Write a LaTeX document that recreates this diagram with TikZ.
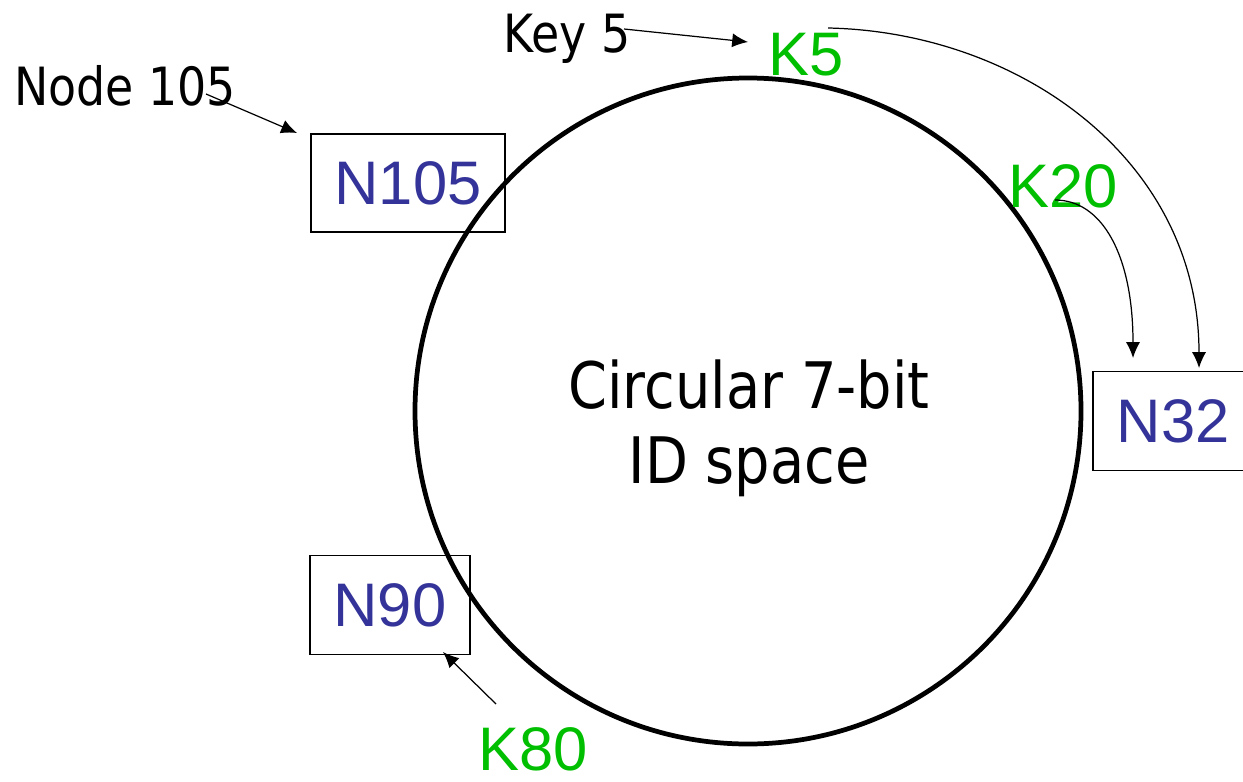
\documentclass[tikz,border=0pt]{standalone}
\usepackage{fontspec}
\newfontfamily\labelfont{Liberation Sans}
\newfontfamily\notefont[FakeStretch=0.87]{DejaVu Sans}
\usetikzlibrary{arrows.meta}
\definecolor{keygreen}{HTML}{00BF00}
\definecolor{nodeblue}{HTML}{333399}

\tikzset{
  idbox/.style={draw, line width=0.8pt, inner sep=0pt, text=nodeblue,
    font=\labelfont\fontsize{35}{42}\selectfont},
  keylabel/.style={anchor=base, inner sep=0pt, text=keygreen,
    font=\labelfont\fontsize{35}{42}\selectfont},
  note/.style={anchor=base, inner sep=0pt,
    font=\notefont\fontsize{30}{36}\selectfont},
  pointer/.style={-{Latex[length=9pt,width=8pt]}, line width=0.7pt}
}

\begin{document}
\begin{tikzpicture}[x=0.02cm,y=-0.02cm]
    \useasboundingbox (0,0) rectangle (1243,781);

    % the ring
    \draw[line width=2.7pt] (748,411) circle (333);
    \node[anchor=base, inner sep=0pt, font=\notefont\fontsize{36.5}{44}\selectfont] (ring1) at (749,408) {Circular 7-bit};
    \node[anchor=base, inner sep=0pt, font=\notefont\fontsize{36.5}{44}\selectfont] (ring2) at (749,483) {ID space};

    % nodes on the ring
    \node[idbox, minimum width=3.88cm, minimum height=1.96cm] (n105) at (408,183) {N105};
    \node[idbox, minimum width=3.2cm, minimum height=1.98cm] (n90) at (390,605) {N90};
    \node[idbox, minimum width=3.2cm, minimum height=1.98cm] (n32) at (1173,421) {N32};

    % keys
    \node[keylabel] (k5) at (806,75) {K5};
    \node[keylabel] (k20) at (1063,207) {K20};
    \node[keylabel] (k80) at (533,770) {K80};

    % notes
    \node[note] (key5) at (567,52) {Key 5};
    \node[note] (node105) at (125,105) {Node 105};

    \coordinate (key5 tail) at (624,29);
    \coordinate (k5 tip) at (748,42);
    \coordinate (node105 tail) at (206,94);
    \coordinate (n105 tip) at (297,133);
    \coordinate (k80 tail) at (496,704);
    \coordinate (n90 tip) at (443,652);
    \coordinate (k20 tail) at (1055,200);
    \coordinate (k20 tip) at (1133,358);
    \coordinate (k5 tail) at (828,28);
    \coordinate (k5 far tip) at (1199,368);

    \draw[pointer] (key5 tail) -- (k5 tip);
    \draw[pointer] (node105 tail) -- (n105 tip);
    \draw[pointer] (k80 tail) -- (n90 tip);
    \draw[pointer] (k20 tail) .. controls (1102,200) and (1133,255) .. (k20 tip);
    \draw[pointer] (k5 tail) .. controls (1020,32) and (1199,160) .. (k5 far tip);
  \end{tikzpicture}
\end{document}
